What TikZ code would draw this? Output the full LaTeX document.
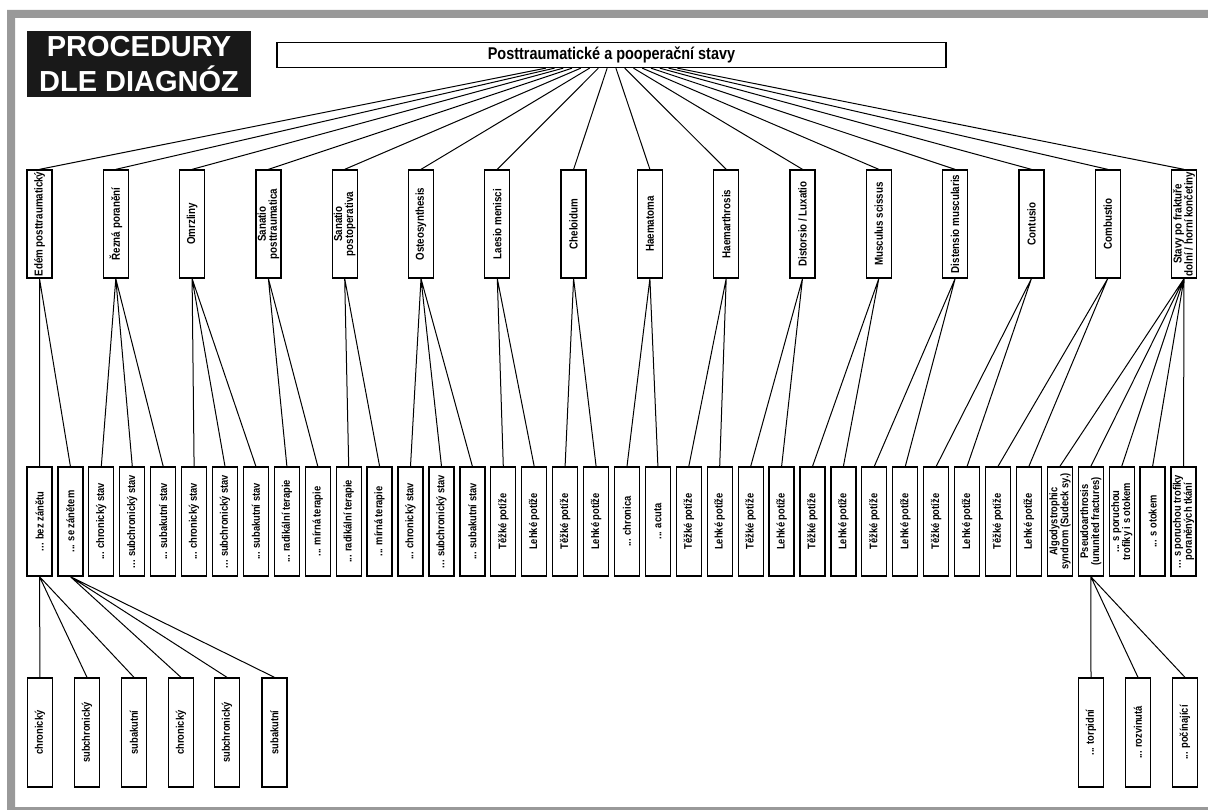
\documentclass[tikz,border=0pt]{standalone}
\usepackage{fontspec}
\setmainfont{Liberation Sans}
\newfontfamily\narrowfont[FakeStretch=0.85]{Liberation Sans}
\begin{document}
\begin{tikzpicture}[x=1pt,y=-1pt,
  every node/.style={font=\narrowfont\bfseries\fontsize{11}{11}\selectfont},
  diag/.style={draw,line width=1.3pt,fill=white,rotate=90,minimum width=108pt,minimum height=25pt,inner sep=0.5pt,align=center,font=\narrowfont\bfseries\fontsize{11.5}{11}\selectfont},
  kind/.style={draw,line width=1.3pt,fill=white,rotate=90,minimum width=109pt,minimum height=25pt,inner sep=0.5pt,align=center},
  link/.style={line width=1pt}]
  % frame
  \clip (0,0) rectangle (1208,810);
  \fill[white] (0,0) rectangle (1208,810);
  \fill[black!40,even odd rule] (7,10) rectangle (1230,830) (15,18) rectangle (1220,807);
  % heading
  \node[fill=black!90,text=white,minimum width=224pt,minimum height=66pt,inner sep=0pt,align=center,font=\bfseries\fontsize{29}{35}\selectfont] (title) at (139,64) {PROCEDURY\\DLE DIAGNÓZ};
  \node[draw,line width=1.3pt,minimum width=669pt,minimum height=25pt,inner sep=0pt,font=\narrowfont\bfseries\fontsize{17}{17}\selectfont] (root) at (611.5,55) {Posttraumatické a pooperační stavy};
  % diagnoses
  \node[diag] (edem) at (39.5,224) {Edém posttraumatický};
  \node[diag] (rezna) at (115.8,224) {Řezná poranění};
  \node[diag] (omrz) at (192.1,224) {Omrzliny};
  \node[diag] (sanpt) at (268.4,224) {Sanatio\\posttraumatica};
  \node[diag] (sanpo) at (344.7,224) {Sanatio\\postoperativa};
  \node[diag] (osteo) at (421.0,224) {Osteosynthesis};
  \node[diag] (laesio) at (497.3,224) {Laesio menisci};
  \node[diag] (chel) at (573.6,224) {Cheloidum};
  \node[diag] (haema) at (649.9,224) {Haematoma};
  \node[diag] (haemar) at (726.2,224) {Haemarthrosis};
  \node[diag] (distor) at (802.5,224) {Distorsio / Luxatio};
  \node[diag] (musc) at (878.8,224) {Musculus scissus};
  \node[diag] (disten) at (955.1,224) {Distensio muscularis};
  \node[diag] (contu) at (1031.4,224) {Contusio};
  \node[diag] (combu) at (1107.7,224) {Combustio};
  \node[diag] (frakt) at (1184.0,224) {Stavy po fraktuře\\dolní / horní končetiny};
  % states
  \node[kind] (edem1) at (39.5,521.5) {... bez zánětu};
  \node[kind] (edem2) at (70.4,521.5) {... se zánětem};
  \node[kind] (rezna1) at (101.3,521.5) {... chronický stav};
  \node[kind] (rezna2) at (132.3,521.5) {... subchronický stav};
  \node[kind] (rezna3) at (163.2,521.5) {... subakutní stav};
  \node[kind] (omrz1) at (194.1,521.5) {... chronický stav};
  \node[kind] (omrz2) at (225.0,521.5) {... subchronický stav};
  \node[kind] (omrz3) at (255.9,521.5) {... subakutní stav};
  \node[kind] (sanpt1) at (286.9,521.5) {... radikální terapie};
  \node[kind] (sanpt2) at (317.8,521.5) {... mírná terapie};
  \node[kind] (sanpo1) at (348.7,521.5) {... radikální terapie};
  \node[kind] (sanpo2) at (379.6,521.5) {... mírná terapie};
  \node[kind] (osteo1) at (410.5,521.5) {... chronický stav};
  \node[kind] (osteo2) at (441.5,521.5) {... subchronický stav};
  \node[kind] (osteo3) at (472.4,521.5) {... subakutní stav};
  \node[kind] (laesio1) at (503.3,521.5) {Těžké potíže};
  \node[kind] (laesio2) at (534.2,521.5) {Lehké potíže};
  \node[kind] (chel1) at (565.1,521.5) {Těžké potíže};
  \node[kind] (chel2) at (596.1,521.5) {Lehké potíže};
  \node[kind] (haema1) at (627.0,521.5) {... chronica};
  \node[kind] (haema2) at (657.9,521.5) {... acuta};
  \node[kind] (haemar1) at (688.8,521.5) {Těžké potíže};
  \node[kind] (haemar2) at (719.7,521.5) {Lehké potíže};
  \node[kind] (distor1) at (750.7,521.5) {Těžké potíže};
  \node[kind] (distor2) at (781.6,521.5) {Lehké potíže};
  \node[kind] (musc1) at (812.5,521.5) {Těžké potíže};
  \node[kind] (musc2) at (843.4,521.5) {Lehké potíže};
  \node[kind] (disten1) at (874.3,521.5) {Těžké potíže};
  \node[kind] (disten2) at (905.3,521.5) {Lehké potíže};
  \node[kind] (contu1) at (936.2,521.5) {Těžké potíže};
  \node[kind] (contu2) at (967.1,521.5) {Lehké potíže};
  \node[kind] (combu1) at (998.0,521.5) {Těžké potíže};
  \node[kind] (combu2) at (1028.9,521.5) {Lehké potíže};
  \node[kind] (frakt1) at (1059.9,521.5) {Algodystrophic\\syndrom (Sudeck sy.)};
  \node[kind] (frakt2) at (1090.8,521.5) {Pseudoarthrosis\\(ununited fractures)};
  \node[kind] (frakt3) at (1121.7,521.5) {... s poruchou\\trofiky i s otokem};
  \node[kind] (frakt4) at (1152.6,521.5) {... s otokem};
  \node[kind] (frakt5) at (1183.5,521.5) {... s poruchou trofiky\\poraněných tkání};
  % stages
  \node[kind] (bez1) at (40,732.5) {chronický};
  \node[kind] (bez2) at (87,732.5) {subchronický};
  \node[kind] (bez3) at (134,732.5) {subakutní};
  \node[kind] (se1) at (181,732.5) {chronický};
  \node[kind] (se2) at (227,732.5) {subchronický};
  \node[kind] (se3) at (274.5,732.5) {subakutní};
  \node[kind] (pseudo1) at (1091,732.5) {... torpidní};
  \node[kind] (pseudo2) at (1138,732.5) {... rozvinutá};
  \node[kind] (pseudo3) at (1185,732.5) {... počínající};
  % links
  \draw[link] (root) -- (edem.east) (root) -- (rezna.east) (root) -- (omrz.east) (root) -- (sanpt.east);
  \draw[link] (root) -- (sanpo.east) (root) -- (osteo.east) (root) -- (laesio.east) (root) -- (chel.east);
  \draw[link] (root) -- (haema.east) (root) -- (haemar.east) (root) -- (distor.east) (root) -- (musc.east);
  \draw[link] (root) -- (disten.east) (root) -- (contu.east) (root) -- (combu.east) (root) -- (frakt.east);
  \draw[link] (edem.west) -- (edem1.east) (edem.west) -- (edem2.east);
  \draw[link] (rezna.west) -- (rezna1.east) (rezna.west) -- (rezna2.east) (rezna.west) -- (rezna3.east);
  \draw[link] (omrz.west) -- (omrz1.east) (omrz.west) -- (omrz2.east) (omrz.west) -- (omrz3.east);
  \draw[link] (sanpt.west) -- (sanpt1.east) (sanpt.west) -- (sanpt2.east);
  \draw[link] (sanpo.west) -- (sanpo1.east) (sanpo.west) -- (sanpo2.east);
  \draw[link] (osteo.west) -- (osteo1.east) (osteo.west) -- (osteo2.east) (osteo.west) -- (osteo3.east);
  \draw[link] (laesio.west) -- (laesio1.east) (laesio.west) -- (laesio2.east);
  \draw[link] (chel.west) -- (chel1.east) (chel.west) -- (chel2.east);
  \draw[link] (haema.west) -- (haema1.east) (haema.west) -- (haema2.east);
  \draw[link] (haemar.west) -- (haemar1.east) (haemar.west) -- (haemar2.east);
  \draw[link] (distor.west) -- (distor1.east) (distor.west) -- (distor2.east);
  \draw[link] (musc.west) -- (musc1.east) (musc.west) -- (musc2.east);
  \draw[link] (disten.west) -- (disten1.east) (disten.west) -- (disten2.east);
  \draw[link] (contu.west) -- (contu1.east) (contu.west) -- (contu2.east);
  \draw[link] (combu.west) -- (combu1.east) (combu.west) -- (combu2.east);
  \draw[link] (frakt.west) -- (frakt1.east) (frakt.west) -- (frakt2.east) (frakt.west) -- (frakt3.east) (frakt.west) -- (frakt4.east) (frakt.west) -- (frakt5.east);
  \draw[link] (edem1.west) -- (bez1.east) (edem1.west) -- (bez2.east) (edem1.west) -- (bez3.east);
  \draw[link] (edem2.west) -- (se1.east) (edem2.west) -- (se2.east) (edem2.west) -- (se3.east);
  \draw[link] (frakt2.west) -- (pseudo1.east) (frakt2.west) -- (pseudo2.east) (frakt2.west) -- (pseudo3.east);
\end{tikzpicture}
\end{document}
